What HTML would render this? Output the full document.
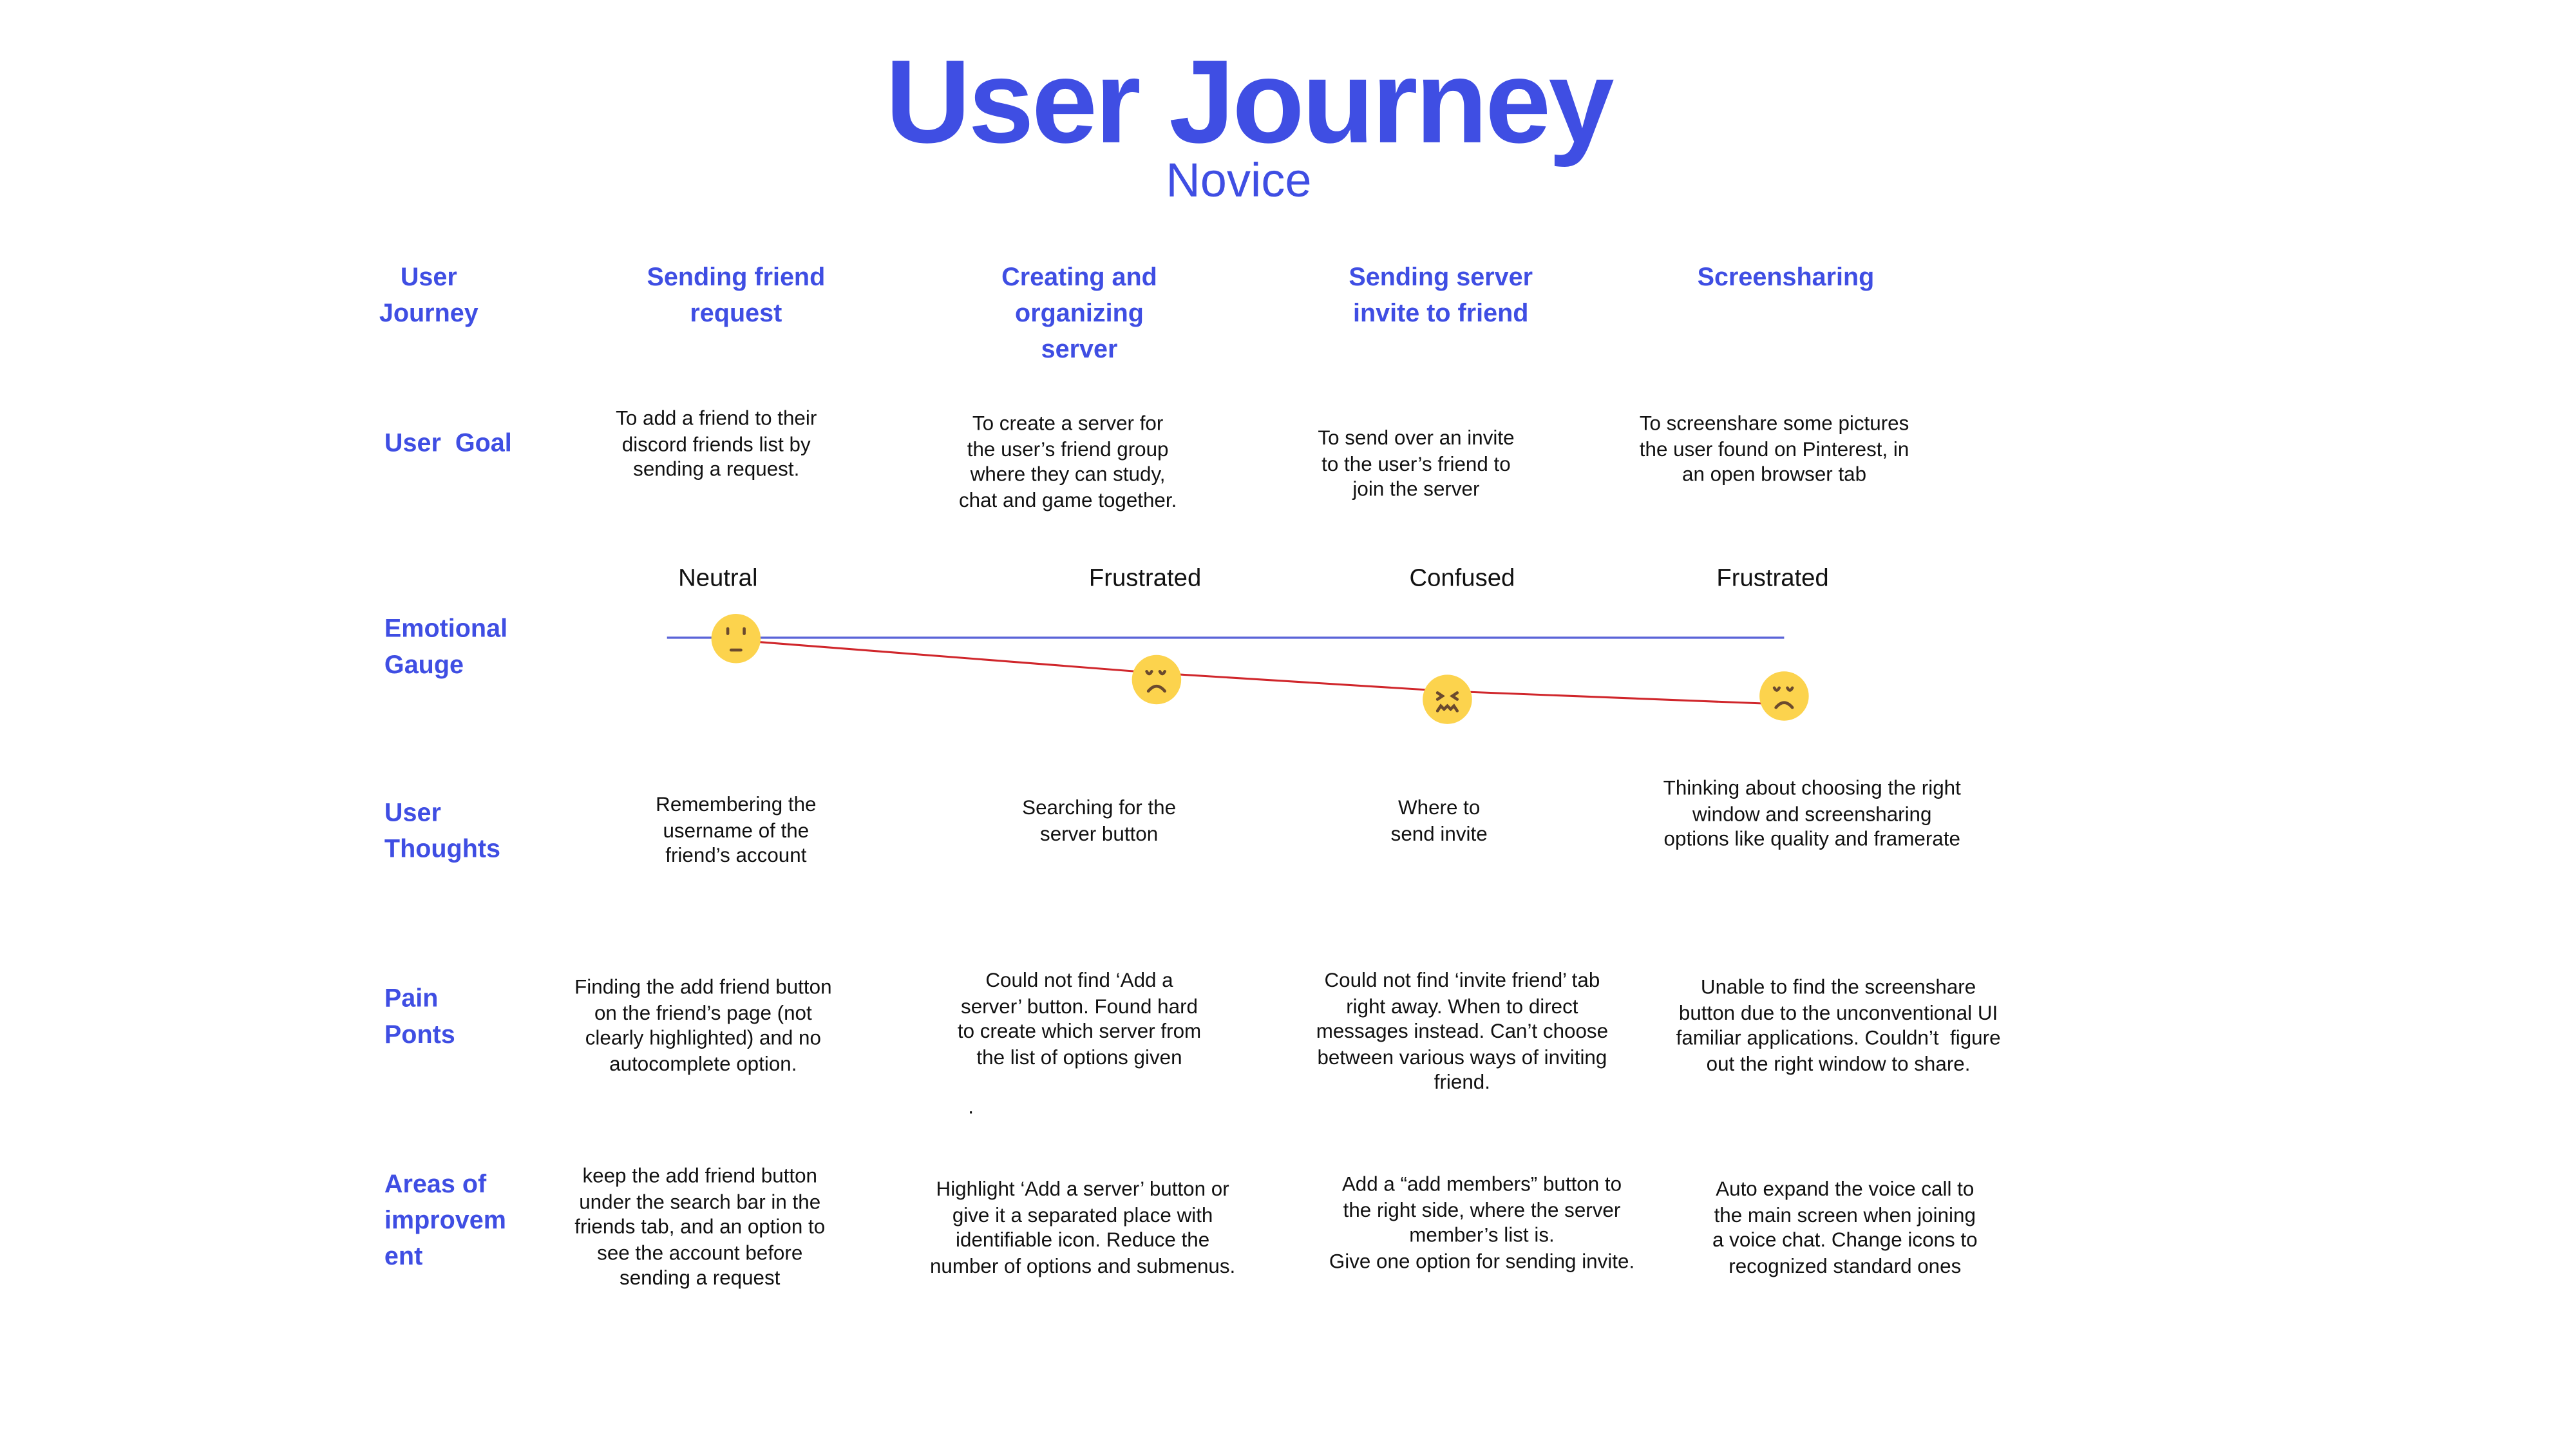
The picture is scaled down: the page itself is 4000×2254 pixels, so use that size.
<!DOCTYPE html>
<html><head><meta charset="utf-8"><style>
html,body{margin:0;padding:0;background:#fff;}
body{width:4000px;height:2250px;overflow:hidden;position:relative;}
#c{position:absolute;left:0;top:4px;width:1568px;height:882px;transform:scale(2.551);transform-origin:0 0;font-family:"Liberation Sans",sans-serif;}
.t{position:absolute;transform:translateX(-50%);text-align:center;white-space:nowrap;font-size:12.3px;line-height:15.5px;color:#111;}
.h{position:absolute;transform:translateX(-50%);text-align:center;white-space:nowrap;font-size:15.5px;line-height:22px;color:#3f4ee3;font-weight:bold;}
.l{position:absolute;left:234px;font-size:15.5px;line-height:22px;color:#3f4ee3;font-weight:bold;}
.e{position:absolute;transform:translateX(-50%);font-size:15px;color:#111;white-space:nowrap;}
</style></head><body><div id="c">
<div style="position:absolute;left:760px;top:21px;transform:translateX(-50%);font-size:72px;font-weight:bold;color:#3f4ee3;letter-spacing:-1.5px;white-space:nowrap;line-height:80px;">User Journey</div>
<div style="position:absolute;left:754px;top:91px;transform:translateX(-50%);font-size:29px;color:#3f4ee3;line-height:36px;">Novice</div>

<div class="h" style="left:261px;top:157px">User<br>Journey</div>
<div class="h" style="left:448px;top:157px">Sending friend<br>request</div>
<div class="h" style="left:657px;top:157px">Creating and<br>organizing<br>server</div>
<div class="h" style="left:877px;top:157px">Sending server<br>invite to friend</div>
<div class="h" style="left:1087px;top:157px">Screensharing</div>

<div class="l" style="top:258px">User&nbsp; Goal</div>
<div class="l" style="top:371px">Emotional<br>Gauge</div>
<div class="l" style="top:483px">User<br>Thoughts</div>
<div class="l" style="top:596px">Pain<br>Ponts</div>
<div class="l" style="top:709px">Areas of<br>improvem<br>ent</div>

<div class="t" style="left:436px;top:246px">To add a friend to their<br>discord friends list by<br>sending a request.</div>
<div class="t" style="left:650px;top:249px">To create a server for<br>the user’s friend group<br>where they can study,<br>chat and game together.</div>
<div class="t" style="left:862px;top:258px">To send over an invite<br>to the user’s friend to<br>join the server</div>
<div class="t" style="left:1080px;top:249px">To screenshare some pictures<br>the user found on Pinterest, in<br>an open browser tab</div>

<div class="e" style="left:437px;top:342px">Neutral</div>
<div class="e" style="left:697px;top:342px">Frustrated</div>
<div class="e" style="left:890px;top:342px">Confused</div>
<div class="e" style="left:1079px;top:342px">Frustrated</div>

<svg style="position:absolute;left:0;top:0" width="1568" height="882">
<line x1="406" y1="386.5" x2="1086" y2="386.5" stroke="#5a64d8" stroke-width="1.3"/>
<polyline points="448,388 704,408 881,419 1086,427" fill="none" stroke="#d0262b" stroke-width="1.2"/>
<g fill="#fcd34d">
<circle cx="448" cy="387" r="15"/><circle cx="704" cy="412" r="15"/><circle cx="881" cy="424" r="15"/><circle cx="1086" cy="422" r="15"/>
</g>
<g stroke="#6b4a2e" stroke-width="1.8" fill="none" stroke-linecap="round">
<line x1="443" y1="381" x2="443" y2="384"/><line x1="453" y1="381" x2="453" y2="384"/><line x1="445" y1="394" x2="451" y2="394"/>
<path d="M698 407 q1.5 3 3 0 M706 407 q1.5 3 3 0 M699 419 q5 -6 10 0"/>
<path d="M875 420 l3 2 l-3 2 M887 420 l-3 2 l3 2 M875 431 l2 -3 l2 2 l2 -2 l2 2 l2 -2 l2 3"/>
<path d="M1080 417 q1.5 3 3 0 M1088 417 q1.5 3 3 0 M1081 429 q5 -6 10 0"/>
</g>
</svg>

<div class="t" style="left:448px;top:481px">Remembering the<br>username of the<br>friend’s account</div>
<div class="t" style="left:669px;top:483px">Searching for the<br>server button</div>
<div class="t" style="left:876px;top:483px">Where to<br>send invite</div>
<div class="t" style="left:1103px;top:471px">Thinking about choosing the right<br>window and screensharing<br>options like quality and framerate</div>

<div class="t" style="left:428px;top:592px">Finding the add friend button<br>on the friend’s page (not<br>clearly highlighted) and no<br>autocomplete option.</div>
<div class="t" style="left:657px;top:588px">Could not find ‘Add a<br>server’ button. Found hard<br>to create which server from<br>the list of options given</div>
<div class="t" style="left:890px;top:588px">Could not find ‘invite friend’ tab<br>right away. When to direct<br>messages instead. Can’t choose<br>between various ways of inviting<br>friend.</div>
<div class="t" style="left:1119px;top:592px">Unable to find the screenshare<br>button due to the unconventional UI<br>familiar applications. Couldn’t&nbsp; figure<br>out the right window to share.</div>
<div class="t" style="left:591px;top:665px">.</div>

<div class="t" style="left:426px;top:707px">keep the add friend button<br>under the search bar in the<br>friends tab, and an option to<br>see the account before<br>sending a request</div>
<div class="t" style="left:659px;top:715px">Highlight ‘Add a server’ button or<br>give it a separated place with<br>identifiable icon. Reduce the<br>number of options and submenus.</div>
<div class="t" style="left:902px;top:712px">Add a “add members” button to<br>the right side, where the server<br>member’s list is.<br>Give one option for sending invite.</div>
<div class="t" style="left:1123px;top:715px">Auto expand the voice call to<br>the main screen when joining<br>a voice chat. Change icons to<br>recognized standard ones</div>
</div></body></html>
